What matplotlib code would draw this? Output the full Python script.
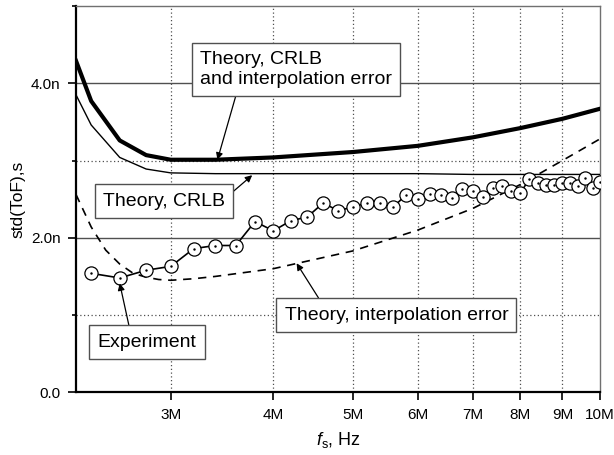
import matplotlib.pyplot as plt
from matplotlib.ticker import FixedLocator, MultipleLocator, FuncFormatter, NullLocator

plt.rcParams['font.family'] = ['Liberation Sans', 'DejaVu Sans']
plt.rcParams['mathtext.fontset'] = 'custom'
plt.rcParams['mathtext.rm'] = 'Liberation Sans'
plt.rcParams['mathtext.it'] = 'Liberation Sans:italic'

# sampling frequency in MHz, std(ToF) in ns
f_theory = [2.3, 2.4, 2.6, 2.8, 3.0, 3.4, 4.0, 5.0, 6.0, 7.0, 8.0, 9.0, 10.0]
crlb_interp = [4.29, 3.77, 3.26, 3.07, 3.01, 3.01, 3.04, 3.11, 3.19, 3.30, 3.42, 3.54, 3.67]
crlb = [3.85, 3.46, 3.04, 2.89, 2.84, 2.83, 2.83, 2.83, 2.83, 2.82, 2.82, 2.82, 2.82]

f_interp = [2.3, 2.4, 2.5, 2.6, 2.7, 2.8, 2.9, 3.0, 3.2, 3.4, 4.0, 5.0, 6.0, 7.0, 8.0, 9.0, 10.0]
interp = [2.56, 2.14, 1.84, 1.66, 1.54, 1.49, 1.46, 1.45, 1.47, 1.50, 1.60, 1.83, 2.10, 2.38, 2.69, 3.00, 3.28]

f_exp = [2.4, 2.6, 2.8, 3.0, 3.2, 3.4, 3.6, 3.8, 4.0, 4.2, 4.4, 4.6, 4.8,
         5.0, 5.2, 5.4, 5.6, 5.8, 6.0, 6.2, 6.4, 6.6, 6.8, 7.0, 7.2, 7.4,
         7.6, 7.8, 8.0, 8.2, 8.4, 8.6, 8.8, 9.0, 9.2, 9.4, 9.6, 9.8, 10.0]
exp = [1.54, 1.48, 1.58, 1.63, 1.86, 1.90, 1.90, 2.21, 2.09, 2.22, 2.27, 2.45, 2.35,
       2.40, 2.45, 2.45, 2.40, 2.55, 2.50, 2.57, 2.55, 2.52, 2.63, 2.60, 2.53, 2.64,
       2.67, 2.60, 2.58, 2.76, 2.71, 2.68, 2.68, 2.71, 2.71, 2.67, 2.77, 2.65, 2.72]

x_ticks = [3, 4, 5, 6, 7, 8, 9, 10]
x_labels = ['3M', '4M', '5M', '6M', '7M', '8M', '9M', '10M']

fig = plt.figure(figsize=(6.14, 4.55), dpi=100)
ax = fig.add_axes([0.1238, 0.1378, 0.8534, 0.849])

ax.set_xscale('log')
ax.set_xlim(2.3, 10)
ax.set_ylim(0, 5)

# grid
grid_c = '#505050'
for v in x_ticks[:-1]:
    ax.axvline(v, color=grid_c, lw=0.9, ls=(0, (1, 2)), zorder=1)
for v in [2, 4]:
    ax.axhline(v, color=grid_c, lw=1.0, zorder=1)
for v in [1, 3]:
    ax.axhline(v, color=grid_c, lw=0.9, ls=(0, (1, 2)), zorder=1)

ax.plot(f_theory, crlb_interp, color='black', lw=3.0, zorder=3)
ax.plot(f_theory, crlb, color='black', lw=1.0, zorder=3)
ax.plot(f_interp, interp, color='black', lw=1.2, ls=(0, (5, 4)), zorder=3)
ax.plot(f_exp, exp, color='black', lw=1.2, marker='o', ms=9.5,
        mfc='white', mec='black', mew=0.9, zorder=4)
ax.plot(f_exp, exp, ls='none', marker='.', ms=1.5, color='black', zorder=5)

ax.xaxis.set_major_locator(FixedLocator(x_ticks))
ax.xaxis.set_major_formatter(FuncFormatter(lambda v, p: x_labels[x_ticks.index(round(v))] if round(v) in x_ticks else ''))
ax.xaxis.set_minor_locator(NullLocator())
ax.yaxis.set_major_locator(MultipleLocator(2))
ax.yaxis.set_minor_locator(MultipleLocator(1))
ax.yaxis.set_major_formatter(FuncFormatter(lambda v, p: '0.0' if v == 0 else '%.1fn' % v))

ax.tick_params(which='major', direction='out', length=6, width=1.2, labelsize=11, pad=5)
ax.tick_params(which='minor', direction='out', length=3, width=1.2)

for s in ['left', 'bottom']:
    ax.spines[s].set_linewidth(1.6)
    ax.spines[s].set_color('black')
for s in ['top', 'right']:
    ax.spines[s].set_linewidth(1.0)
    ax.spines[s].set_color('#707070')

ax.set_ylabel('std(ToF),s', fontsize=12.5, labelpad=4)
ax.set_xlabel(r'$f_{\mathrm{s}}$, Hz', fontsize=13, labelpad=6)

box = dict(boxstyle='square,pad=0.42', fc='white', ec='#505050', lw=1.0)
arrow = dict(arrowstyle='-|>', color='black', lw=0.9, mutation_scale=10, shrinkA=0, shrinkB=0)

ax.annotate('Theory, CRLB\nand interpolation error', xy=(3.42, 3.01), xytext=(4.26, 4.18),
            fontsize=14, ha='center', va='center', multialignment='left', bbox=box,
            arrowprops=dict(arrow, relpos=(0.2, 0.0)), zorder=6)
ax.annotate('Theory, CRLB', xy=(3.77, 2.81), xytext=(2.944, 2.475),
            fontsize=14, ha='center', va='center', bbox=box,
            arrowprops=dict(arrow, relpos=(1.0, 0.65)), zorder=6)
ax.annotate('Theory, interpolation error', xy=(4.27, 1.67), xytext=(5.65, 1.0),
            fontsize=14, ha='center', va='center', bbox=box,
            arrowprops=dict(arrow, relpos=(0.176, 1.0)), zorder=6)
ax.annotate('Experiment', xy=(2.60, 1.41), xytext=(2.806, 0.65),
            fontsize=14, ha='center', va='center', bbox=box,
            arrowprops=dict(arrow, relpos=(0.336, 1.0)), zorder=6)

fig.savefig('out.png', dpi=100)
